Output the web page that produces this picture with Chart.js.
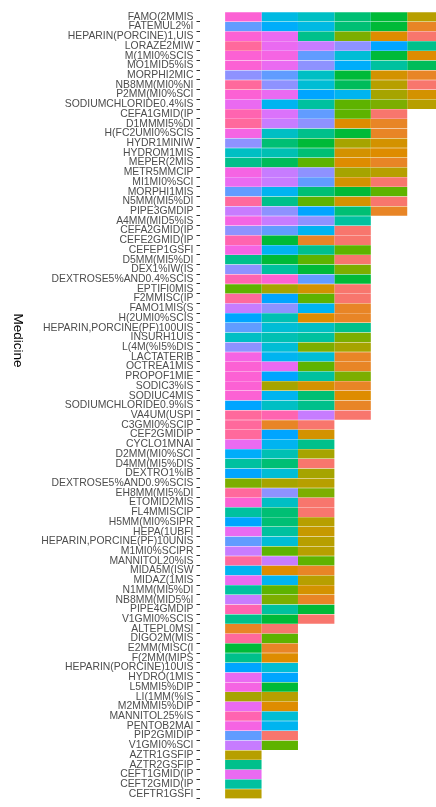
<!DOCTYPE html>
<html>
<head>
<meta charset="utf-8">
<script src="https://cdn.jsdelivr.net/npm/chart.js@4"></script>
<style>
  html, body { margin: 0; padding: 0; background: #ffffff; overflow: hidden; }
  #wrap { position: absolute; left: 0; top: 0; width: 436px; height: 808px; }
</style>
</head>
<body>
<div id="wrap"><canvas id="medChart"></canvas></div>
<script>
const yTitle = 'Medicine';

const medicines = [
    'FAMO(2MMIS', 'FATEMUL2%I', 'HEPARIN(PORCINE)1,UIS', 'LORAZE2MIW', 'M(1MI0%SCIS',
    'MO1MID5%IS', 'MORPHI2MIC', 'NB8MM(MI0%NI', 'P2MM(MI0%SCI', 'SODIUMCHLORIDE0.4%IS',
    'CEFA1GMID(IP', 'D1MMMI5%DI', 'H(FC2UMI0%SCIS', 'HYDR1MINIW', 'HYDROM1MIS',
    'MEPER(2MIS', 'METR5MMCIP', 'MI1MI0%SCI', 'MORPHI1MIS', 'N5MM(MI5%DI',
    'PIPE3GMDIP', 'A4MM(MID5%IS', 'CEFA2GMID(IP', 'CEFE2GMID(IP', 'CEFEP1GSFI',
    'D5MM(MI5%DI', 'DEX1%IW(IS', 'DEXTROSE5%AND0.4%SCIS', 'EPTIFI0MIS', 'F2MMISC(IP',
    'FAMO1MIS(S', 'H(2UMI0%SCIS', 'HEPARIN,PORCINE(PF)100UIS', 'INSURH1UIS', 'L(4M(%I5%DIS',
    'LACTATERIB', 'OCTREA1MIS', 'PROPOF1MIE', 'SODIC3%IS', 'SODIUC4MIS',
    'SODIUMCHLORIDE0.9%IS', 'VA4UM(USPI', 'C3GMI0%SCIP', 'CEF2GMIDIP', 'CYCLO1MNAI',
    'D2MM(MI0%SCI', 'D4MM(MI5%DIS', 'DEXTRO1%IB', 'DEXTROSE5%AND0.9%SCIS', 'EH8MM(MI5%DI',
    'ETOMID2MIS', 'FL4MMISCIP', 'H5MM(MI0%SIPR', 'HEPA(1UBFI', 'HEPARIN,PORCINE(PF)10UNIS',
    'M1MI0%SCIPR', 'MANNITOL20%IS', 'MIDA5M(ISW', 'MIDAZ(1MIS', 'N1MM(MI5%DI',
    'NB8MM(MID5%I', 'PIPE4GMDIP', 'V1GMI0%SCIS', 'ALTEPL0MSI', 'DIGO2M(MIS',
    'E2MM(MISC(I', 'F(2MM(MIPS', 'HEPARIN(PORCINE)10UIS', 'HYDRO(1MIS', 'L5MMI5%DIP',
    'LI(1MM(%IS', 'M2MMMI5%DIP', 'MANNITOL25%IS', 'PENTOB2MAI', 'PIP2GMIDIP',
    'V1GMI0%SCI', 'AZTR1GSFIP', 'AZTR2GSFIP', 'CEFT1GMID(IP', 'CEFT2GMID(IP',
    'CEFTR1GSFI'
];

// fill level of each count-1 segment, left to right (level index of a 36-level factor)
const segmentLevels = [
    [31,20,18,14,12,6], [24,22,20,14,12,2], [31,29,15,9,3,0], [34,29,27,25,23,15], [31,30,24,19,12,3],
    [31,29,25,22,16,13], [25,24,18,12,4,2], [34,25,19,13,6,0], [31,29,23,21,7,4], [29,21,16,10,9,6],
    [33,28,24,10,0], [34,27,25,3,2], [30,18,15,12,2], [25,14,12,7,4], [18,17,14,4,3],
    [15,13,10,3,2], [30,27,25,7,6], [29,27,24,4,0], [24,21,14,12,10], [34,15,10,4,0],
    [27,25,23,14,2], [30,27,25,16], [25,24,21,0], [33,12,2,0], [30,21,15,10],
    [15,12,10,0], [25,16,12,9], [33,31,24,12], [10,7,4,0], [34,23,10,0],
    [27,25,21,2], [23,17,3,2], [24,19,18,15], [18,17,16,9], [25,19,9,7],
    [30,21,19,2], [31,29,10,2], [31,23,16,9], [31,7,4,2], [31,21,14,3],
    [23,18,15,2], [34,33,27,0], [34,2,0], [34,23,4], [29,21,15],
    [22,17,7], [16,14,0], [23,19,7], [9,7,6], [34,25,9],
    [31,18,0], [16,14,0], [23,14,6], [29,16,5], [24,19,6],
    [27,10,6], [34,27,10], [21,3,2], [29,21,6], [16,10,4],
    [27,9,2], [33,16,12], [15,12,0], [2,0], [34,10],
    [12,2], [15,3], [23,19], [29,23], [30,12],
    [7,6], [29,3], [33,19], [30,21], [24,0],
    [27,10], [6], [15], [29], [16],
    [6]
];

// ggplot-style hue palette: hcl(h, 100, 65)
function hcl(h, c, l) {
    const hr = h * Math.PI / 180;
    const U = c * Math.cos(hr), V = c * Math.sin(hr);
    const Y = Math.pow((l + 16) / 116, 3);
    const un = 0.1978398, vn = 0.4683363;
    const u = U / (13 * l) + un, v = V / (13 * l) + vn;
    const X = Y * 9 * u / (4 * v);
    const Z = Y * (12 - 3 * u - 20 * v) / (4 * v);
    const lin = [
        3.240479 * X - 1.537150 * Y - 0.498535 * Z,
        -0.969256 * X + 1.875992 * Y + 0.041556 * Z,
        0.055648 * X - 0.204043 * Y + 1.057311 * Z
    ];
    const rgb = lin.map(t => {
        const g = t <= 0.0031308 ? 12.92 * t : 1.055 * Math.pow(t, 1 / 2.4) - 0.055;
        return Math.round(Math.min(1, Math.max(0, g)) * 255);
    });
    return 'rgb(' + rgb.join(',') + ')';
}
const levelColor = (lvl) => hcl(15 + 10 * lvl, 100, 65);

const maxSegments = Math.max(...segmentLevels.map(s => s.length));
const datasets = [];
for (let k = 0; k < maxSegments; k++) {
    datasets.push({
        label: 'segment ' + (k + 1),
        data: segmentLevels.map(s => s.length > k ? 1 : null),
        backgroundColor: segmentLevels.map(s => s.length > k ? levelColor(s[k]) : 'rgba(0,0,0,0)'),
        borderWidth: 0,
        barPercentage: 0.96,
        categoryPercentage: 1.0
    });
}

const yTitlePlugin = {
    id: 'yTitle',
    afterDraw(chart) {
        const c = chart.ctx;
        c.save();
        c.translate(17.5, 340.5);
        c.rotate(Math.PI / 2);
        c.font = '13.5px "Liberation Sans", Arial, sans-serif';
        c.fillStyle = '#000000';
        c.textAlign = 'center';
        c.textBaseline = 'middle';
        c.fillText(yTitle, 0, 0);
        c.restore();
    }
};

new Chart(document.getElementById('medChart').getContext('2d'), {
    type: 'bar',
    data: { labels: medicines, datasets: datasets },
    options: {
        indexAxis: 'y',
        responsive: true,
        maintainAspectRatio: false,
        animation: false,
        layout: { padding: { top: 12, right: 0, bottom: 0, left: 0 } },
        plugins: {
            legend: { display: false },
            tooltip: { enabled: false }
        },
        scales: {
            x: {
                stacked: true,
                display: false,
                min: -0.69,
                max: 5.79
            },
            y: {
                stacked: true,
                offset: true,
                border: { display: false },
                grid: {
                    drawOnChartArea: false,
                    tickLength: 3.5,
                    lineWidth: 1,
                    // the topmost tick is not visible in the original
                    color: (ctx) => ctx.index === 0 ? 'rgba(0,0,0,0)' : '#333333'
                },
                ticks: {
                    autoSkip: false,
                    padding: 3,
                    color: '#4d4d4d',
                    font: { family: '"Liberation Sans", Arial, sans-serif', size: 10.4 }
                },
                afterFit(scale) { scale.width = 200; }
            }
        }
    },
    plugins: [yTitlePlugin]
});
</script>
</body>
</html>
